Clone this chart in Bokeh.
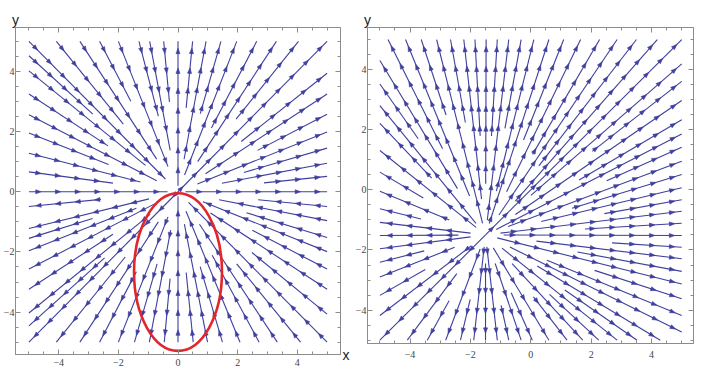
import math
from bokeh.plotting import figure
from bokeh.layouts import row
from bokeh.models import LinearAxis, SingleIntervalTicker
from bokeh.embed import file_html
from bokeh.resources import INLINE

STREAM = "#3f3f9e"
FRAME = "#8c8c8c"
RING = "#e3262a"

# ---------------- left field: lines through the origin ----------------
L_CENTER = (0.0, 0.0)
L_TOP_X = [-4.08, -3.29, -2.63, -2.00, -1.31, -0.95, -0.48, 0.00, 0.49, 0.94, 1.44, 1.97, 2.64, 3.30, 4.04]
L_TOP_R = [2.9, 1.3, 3.4, 0.9, 2.6, 1.4, 3.0, 0.2, 2.8, 1.1, 2.7, 0.6, 2.4, 1.2, 3.1]
L_LEFT_Y = [4.52, 4.02, 3.25, 2.56, 1.95, 1.28, 0.66, 0.00, -0.49, -1.22, -1.55, -1.96, -2.57, -3.24, -4.03, -4.46]
L_LEFT_R = [3.85, 1.4, 2.8, 0.8, 2.5, 1.3, 2.2, 0.35, 2.6, 1.0, 3.0, 1.5, 0.7, 2.6, 1.2, 3.3]
L_RIGHT_Y = [3.94, 3.25, 2.58, 1.99, 1.45, 0.95, 0.51, 0.00, -0.49, -0.96, -1.52, -1.99, -2.57, -3.24, -4.07]
L_RIGHT_R = [2.7, 1.1, 3.0, 0.7, 2.3, 1.5, 2.9, 0.25, 2.7, 1.4, 2.4, 0.9, 2.8, 1.3, 3.2]
L_BOTTOM_X = [-4.08, -3.29, -2.63, -2.00, -1.46, -0.96, -0.46, 0.00, 0.51, 0.99, 1.49, 2.08, 2.72, 3.33, 4.11]
L_BOTTOM_R = [2.8, 1.2, 3.0, 0.9, 2.5, 1.3, 2.9, 0.15, 2.7, 1.1, 2.6, 0.7, 2.4, 1.3, 3.1]
L_CORNERS = [(5.0, 5.0), (-5.0, 5.0), (-5.0, -5.0), (5.0, -5.0)]
L_CORNER_R = [0.0, 0.6, 0.0, 0.5]

# ellipse drawn over the lower half of the left field
RING_CENTER = (0.0, -2.67)
RING_SIZE = (2.95, 5.24)

# ---------------- right field: lines out of (-1.5, -1.5) ----------------
R_CENTER = (-1.5, -1.5)
R_TOP_X = [-4.73, -4.15, -3.63, -3.12, -2.66, -2.22, -1.85, -1.48, -1.11, -0.73, -0.32, 0.10, 0.60, 1.09, 1.65, 2.28, 2.86, 3.50, 4.19]
R_TOP_R = [3.2, 1.4, 4.2, 0.4, 3.8, 1.2, 3.3, 1.7, 3.3, 0.5, 3.6, 1.5, 0.4, 3.4, 1.6, 3.1, 0.8, 2.9, 1.5]
R_LEFT_Y = [4.30, 3.52, 2.80, 2.21, 1.31, 0.59, -0.05, -0.63, -1.08, -1.52, -1.96, -2.41, -2.90, -3.51, -4.18]
R_LEFT_R = [1.8, 3.9, 0.5, 2.6, 0.4, 2.4, 1.3, 2.2, 0.5, 0.9, 0.5, 2.1, 1.1, 2.3, 0.6]
R_RIGHT_Y = [4.19, 3.61, 2.97, 2.33, 1.86, 1.42, 0.95, 0.51, 0.07, -0.33, -0.71, -1.11, -1.52, -1.91, -2.29, -2.71, -3.13, -3.62, -4.18, -4.73]
R_RIGHT_R = [2.0, 4.5, 1.2, 3.6, 0.4, 4.4, 0.8, 3.0, 1.9, 4.0, 0.5, 3.3, 0.6, 4.2, 1.7, 3.1, 0.4, 3.8, 2.2, 0.9]
R_BOTTOM_X = [-4.09, -3.43, -2.82, -2.33, -1.89, -1.50, -1.11, -0.73, -0.32, 0.05, 0.60, 1.20, 1.72, 2.25, 2.86, 3.52, 4.29]
R_BOTTOM_R = [1.6, 2.5, 0.5, 2.2, 0.4, 0.95, 0.4, 2.4, 1.0, 2.1, 0.5, 2.6, 1.3, 2.9, 0.7, 3.2, 2.0]
R_CORNERS = [(5.0, 5.0), (-5.0, -5.0)]
R_CORNER_R = [0.0, 0.0]

TICKS = [-4, -2, 0, 2, 4]

ARROW_GAP = 0.66     # spacing of heads along a line (data units)
ARROW_LEN = 0.18
ARROW_HALF = 0.068


def outer_points(top_x, left_y, right_y, bottom_x, corners):
    pts = [(x, 5.0) for x in top_x]
    pts += [(-5.0, y) for y in left_y]
    pts += [(5.0, y) for y in right_y]
    pts += [(x, -5.0) for x in bottom_x]
    pts += list(corners)
    return pts


def left_sign(x, y):
    # +1 = flow away from the origin, -1 = toward it
    if x == 0:
        return 1 if y > 0 else -1
    if y == 0:
        return 1 if x > 0 else -1
    return 1 if x * y > 0 else -1


def right_sign(x, y):
    return 1


def stream_geometry(center, pts, radii, sign_fn):
    cx, cy = center
    lxs, lys, axs, ays = [], [], [], []
    for (ox, oy), r in zip(pts, radii):
        dx, dy = ox - cx, oy - cy
        length = math.hypot(dx, dy)
        ux, uy = dx / length, dy / length
        ix, iy = cx + r * ux, cy + r * uy
        lxs.append([ox, ix])
        lys.append([oy, iy])
        s = sign_fn(ox, oy)
        fx, fy = s * ux, s * uy
        px, py = -fy, fx
        d = 0.32
        while d < length - r - 0.12:
            mx, my = ox - d * ux, oy - d * uy
            tipx, tipy = mx + fx * ARROW_LEN / 2, my + fy * ARROW_LEN / 2
            bx, by = mx - fx * ARROW_LEN / 2, my - fy * ARROW_LEN / 2
            axs.append([tipx, bx + px * ARROW_HALF, bx - px * ARROW_HALF])
            ays.append([tipy, by + py * ARROW_HALF, by - py * ARROW_HALF])
            d += ARROW_GAP
    return lxs, lys, axs, ays


def frame_ticks(ax):
    ax.ticker = SingleIntervalTicker(interval=2, num_minor_ticks=4)
    ax.axis_line_color = FRAME
    ax.major_tick_line_color = FRAME
    ax.minor_tick_line_color = FRAME
    ax.major_tick_in = 5
    ax.major_tick_out = 0
    ax.minor_tick_in = 3
    ax.minor_tick_out = 0


def bare_ticks(ax):
    # tick marks only: the numbers sit on the bottom and left sides
    frame_ticks(ax)
    ax.major_label_overrides = {t: "" for t in TICKS}
    ax.major_label_standoff = 0
    ax.major_label_text_font_size = "1px"


def letter_style(ax, text, align):
    ax.axis_label = text
    ax.axis_label_orientation = "horizontal"
    ax.axis_label_align = align
    ax.axis_label_standoff = 0
    ax.axis_label_text_font = "Liberation Sans"
    ax.axis_label_text_font_style = "normal"
    ax.axis_label_text_font_size = "14px"
    ax.axis_label_text_color = "#222222"


def style_axes(p, label_gap, with_x):
    for ax in (p.xaxis[0], p.yaxis[0]):
        frame_ticks(ax)
        ax.major_label_text_font = "Liberation Serif"
        ax.major_label_text_font_size = "10px"
        ax.major_label_text_color = "#444444"
    p.xaxis[0].major_label_standoff = label_gap
    p.yaxis[0].major_label_standoff = 1

    top = LinearAxis()
    bare_ticks(top)
    letter_style(top, "y", "start")
    p.add_layout(top, "above")

    right = LinearAxis()
    bare_ticks(right)
    if with_x:
        letter_style(right, "x", "start")
        right.axis_label_standoff = 2
    p.add_layout(right, "right")

    p.outline_line_color = FRAME
    p.xgrid.visible = False
    p.ygrid.visible = False


def make_panel(frame, borders, xr, yr, label_gap, with_x, center, pts, radii, sign_fn):
    left, right, top, bottom = borders
    p = figure(frame_width=frame[0], frame_height=frame[1], x_range=xr, y_range=yr,
               output_backend="svg", toolbar_location=None,
               min_border_left=left, min_border_right=right,
               min_border_top=top, min_border_bottom=bottom,
               background_fill_color="white", border_fill_color="white")
    style_axes(p, label_gap, with_x)
    lxs, lys, axs, ays = stream_geometry(center, pts, radii, sign_fn)
    p.multi_line(lxs, lys, line_color=STREAM, line_width=1.1)
    p.patches(axs, ays, fill_color=STREAM, line_color=STREAM, line_width=0.6)
    return p


left_pts = outer_points(L_TOP_X, L_LEFT_Y, L_RIGHT_Y, L_BOTTOM_X, L_CORNERS)
left_r = L_TOP_R + L_LEFT_R + L_RIGHT_R + L_BOTTOM_R + L_CORNER_R
p1 = make_panel((325, 327), (15, 12, 25, 14), (-5.45, 5.45), (-5.41, 5.46), 4, True,
                L_CENTER, left_pts, left_r, left_sign)
p1.ellipse(x=RING_CENTER[0], y=RING_CENTER[1], width=RING_SIZE[0], height=RING_SIZE[1],
           fill_color=None, line_color=RING, line_width=2.6)

right_pts = outer_points(R_TOP_X, R_LEFT_Y, R_RIGHT_Y, R_BOTTOM_X, R_CORNERS)
right_r = R_TOP_R + R_LEFT_R + R_RIGHT_R + R_BOTTOM_R + R_CORNER_R
p2 = make_panel((326, 316), (15, 8, 27, 23), (-5.41, 5.39), (-5.11, 5.40), 7, False,
                R_CENTER, right_pts, right_r, right_sign)

layout = row(p1, p2)
open("out.html", "w").write(file_html(layout, INLINE))
